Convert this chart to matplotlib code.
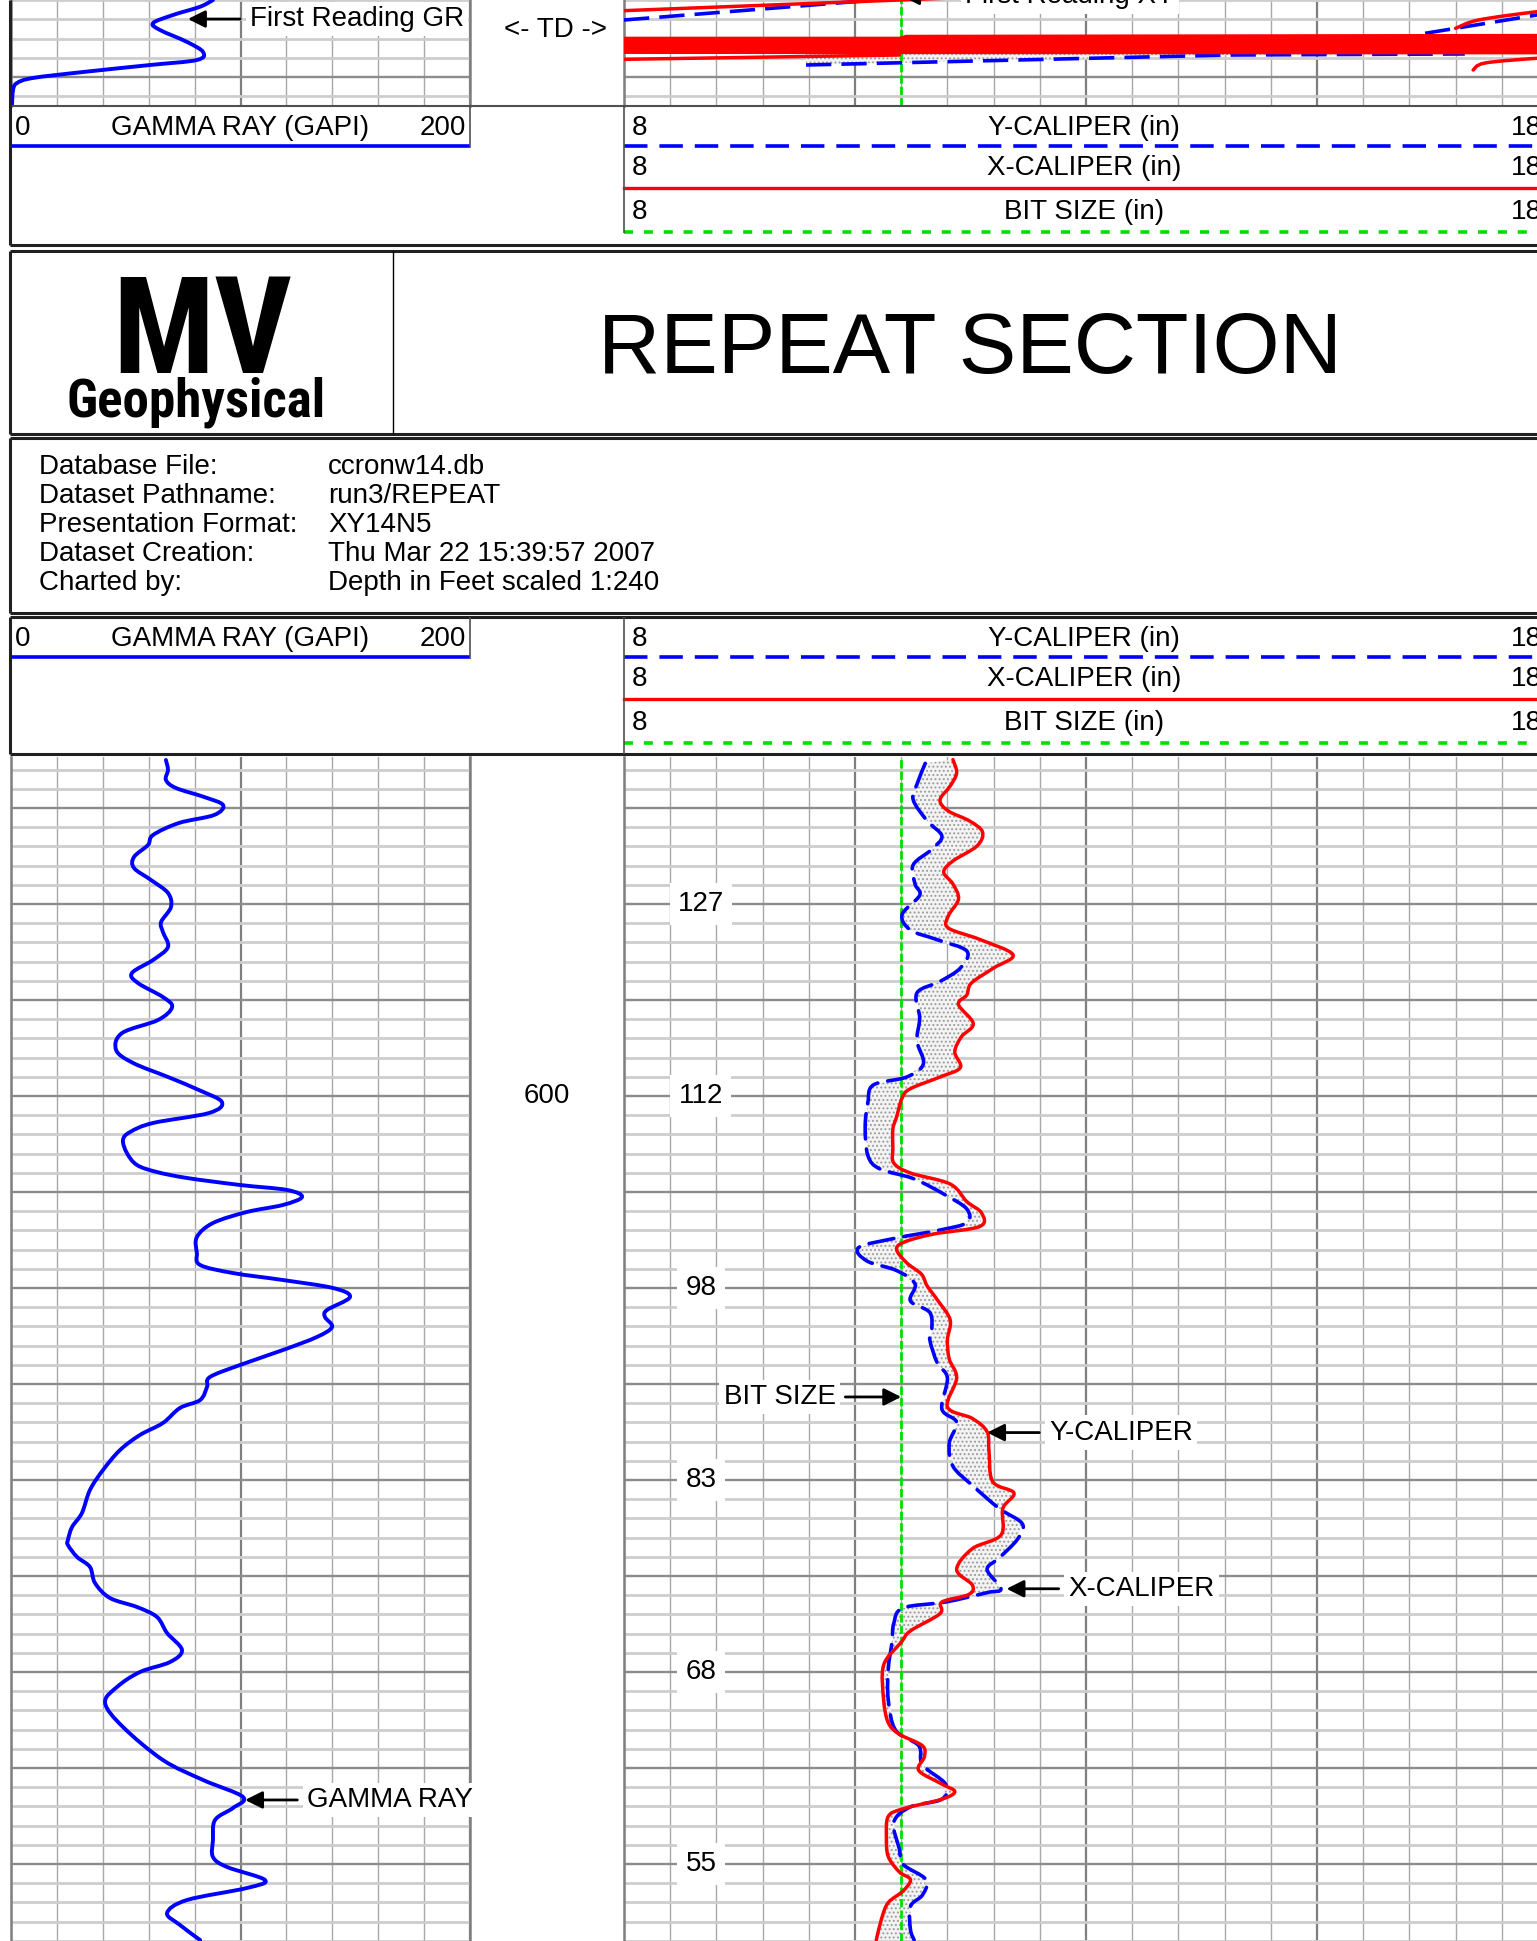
import numpy as np
import matplotlib.pyplot as plt
import matplotlib.transforms as mtransforms
from matplotlib import font_manager as fm
from matplotlib.path import Path
from matplotlib.patches import PathPatch

plt.rcParams['font.family'] = ['Liberation Sans', 'DejaVu Sans']
plt.rcParams['hatch.linewidth'] = 0.9

# ---------------- data ----------------
# repeat section (depth in feet)
gr_depth = [565.0, 566.04, 567.08, 567.92, 568.85, 569.69, 570.73, 571.56, 572.81, 573.85,
            575.10, 576.25, 577.5, 578.85, 580.31, 581.88, 582.92, 584.48, 585.83, 587.19,
            588.23, 589.69, 590.73, 592.08, 593.44, 595.21, 596.56, 598.02, 599.38, 600.63,
            601.77, 602.81, 603.75, 604.58, 605.94, 607.19, 607.92, 608.54, 609.27, 609.79,
            610.52, 611.35, 612.08, 613.23, 614.69, 616.35, 617.60, 618.44, 619.17, 620.0,
            620.94, 622.29, 623.02, 624.06, 625.10, 626.46, 628.02, 629.27, 630.31, 631.67,
            632.5, 634.06, 635.31, 636.88, 638.96, 641.04, 643.44, 644.90, 646.25, 646.77,
            648.02, 649.06, 650.73, 652.29, 653.23, 654.27, 655.94, 657.71, 658.96, 660.0,
            661.56, 663.23, 665.73, 669.17, 671.25, 673.02, 674.17, 675.42, 677.5, 679.27,
            680.31, 681.67, 682.5, 683.75, 685.10, 686.35, 687.92]
gr_api = [67.5, 68.4, 67.5, 71.9, 84.1, 92.4, 88.5, 73.2, 61.9, 59.7,
          53.6, 53.6, 61.0, 68.4, 69.7, 65.4, 66.2, 68.4, 61.9, 52.7,
          55.3, 66.2, 70.2, 64.1, 48.4, 45.8, 53.2, 68.4, 81.9, 91.9,
          86.3, 61.9, 51.9, 48.8, 50.5, 54.9, 63.6, 76.7, 99.8, 120.3,
          126.8, 118.5, 102.8, 88.0, 81.0, 81.0, 82.4, 96.7, 118.5, 140.3,
          147.7, 137.7, 136.8, 139.9, 133.3, 118.5, 99.8, 86.7, 85.4, 82.4,
          73.6, 66.2, 56.2, 47.5, 40.1, 34.4, 30.9, 26.6, 24.8, 24.8,
          28.8, 34.4, 36.6, 43.1, 54.9, 63.6, 68.0, 74.5, 69.3, 56.2,
          46.2, 41.0, 48.8, 66.2, 83.7, 101.1, 96.7, 88.9, 88.0, 88.0,
          94.1, 110.7, 102.8, 76.7, 68.0, 73.6, 82.4]

xcal_depth = [564.96, 566.35, 567.71, 569.17, 570.31, 571.35, 572.5, 573.96, 575.52, 576.67,
              577.92, 579.48, 581.25, 582.5, 583.69, 585.28, 586.67, 588.23, 589.48, 590.47,
              592.46, 593.85, 595.42, 597.04, 598.02, 599.24, 600.21, 602.19, 603.44, 605.42,
              606.98, 608.02, 609.17, 611.0, 612.19, 613.59, 614.38, 615.19, 615.98, 617.38,
              618.57, 619.77, 621.35, 623.33, 625.42, 627.40, 629.38, 632.40, 633.59, 634.98,
              636.98, 640.17, 641.35, 642.96, 645.73, 647.15, 649.33, 650.94, 651.93, 652.71,
              653.92, 655.72, 656.91, 659.27, 662.89, 665.28, 666.48, 667.68, 668.85, 670.26,
              671.67, 672.46, 673.25, 674.25, 675.05, 677.24, 679.23, 680.83, 681.63, 682.81,
              684.02, 685.61, 687.92]
xcal_in = [11.56, 11.60, 11.53, 11.42, 11.51, 11.74, 11.88, 11.82, 11.56, 11.46,
           11.56, 11.62, 11.51, 11.51, 11.85, 12.21, 12.00, 11.76, 11.71, 11.62,
           11.78, 11.65, 11.58, 11.64, 11.42, 11.10, 11.01, 10.95, 10.91, 10.91,
           10.92, 11.10, 11.53, 11.71, 11.87, 11.85, 11.35, 11.04, 10.95, 11.06,
           11.22, 11.28, 11.40, 11.53, 11.50, 11.52, 11.60, 11.50, 11.77, 11.93,
           11.95, 11.99, 12.22, 12.10, 12.08, 11.77, 11.60, 11.77, 11.73, 11.44,
           11.42, 11.10, 11.00, 10.81, 10.81, 10.86, 10.98, 11.23, 11.25, 11.19,
           11.44, 11.58, 11.44, 11.02, 10.86, 10.84, 10.86, 10.98, 11.10, 11.02,
           10.86, 10.79, 10.73]

ycal_depth = [565.35, 567.54, 569.15, 571.33, 572.92, 574.32, 575.92, 577.92, 579.10, 581.10,
              582.71, 583.69, 584.90, 586.67, 588.07, 589.27, 591.88, 594.25, 596.65, 598.02,
              598.84, 600.63, 603.23, 606.22, 607.60, 608.60, 610.21, 611.77, 613.19, 613.96,
              614.79, 615.78, 617.19, 618.18, 619.58, 621.35, 622.56, 624.55, 625.42, 627.81,
              629.38, 632.60, 633.99, 636.18, 638.57, 640.56, 642.96, 644.55, 646.15, 648.13,
              649.33, 651.33, 651.73, 652.71, 653.33, 654.92, 656.91, 659.69, 662.89, 666.08,
              667.68, 669.67, 671.67, 673.25, 674.05, 675.65, 678.44, 680.03, 681.63, 683.23,
              684.42, 686.81, 687.92]
ycal_in = [11.26, 11.17, 11.13, 11.28, 11.44, 11.33, 11.13, 11.15, 11.20, 11.01,
           11.10, 11.38, 11.71, 11.64, 11.42, 11.17, 11.20, 11.17, 11.24, 11.06,
           10.70, 10.64, 10.61, 10.64, 10.77, 11.13, 11.46, 11.71, 11.71, 11.42,
           10.95, 10.54, 10.63, 10.95, 11.15, 11.10, 11.31, 11.33, 11.31, 11.39,
           11.50, 11.44, 11.60, 11.52, 11.56, 11.77, 12.06, 12.31, 12.26, 12.06,
           11.93, 12.08, 11.93, 11.48, 11.02, 10.92, 10.90, 10.86, 10.86, 10.94,
           11.19, 11.23, 11.48, 11.44, 11.10, 10.92, 10.98, 11.02, 11.27, 11.23,
           11.10, 11.10, 11.14]

bit_size = 11.0

# numbers printed in the caliper track every 20 ft
ref_depths = [580, 600, 620, 640, 660, 680]
ref_labels = ['127', '112', '98', '83', '68', '55']
depth_marks = [600]

# tail of the previous pass, at TD (top of the page)
td_gr_depth = [691.98, 692.68, 693.54, 694.38, 695.10, 696.35, 697.40, 698.23, 698.75,
               699.48, 700.10, 700.63, 701.35, 703.02]
td_gr_api = [88.0, 82.4, 70.6, 61.9, 64.9, 76.7, 83.7, 81.0, 60.6, 31.4, 9.6, 2.6, 0.9, 0.4]

td_xcal_a_in = [8.0, 10.98, 12.0]
td_xcal_a_depth = [693.09, 691.98, 691.6]
td_xcal_b_in = [8.0, 10.98]
td_xcal_b_depth = [698.16, 697.71]
td_xcal_c_in = [17.0, 17.25, 17.88, 18.2]
td_xcal_c_depth = [694.93, 694.06, 693.2, 693.0]
td_xcal_d_in = [17.19, 17.32, 17.88, 18.2]
td_xcal_d_depth = [699.27, 698.54, 698.05, 697.95]
td_band_in = [8.0, 10.98, 11.05, 18.2, 18.2, 8.0]
td_band_depth = [695.8, 695.8, 695.6, 695.5, 697.65, 697.6]

td_ycal_a_in = [8.0, 10.72, 11.5]
td_ycal_a_depth = [694.06, 691.98, 691.6]
td_ycal_b_in = [9.97, 14.54, 17.1]
td_ycal_b_depth = [698.75, 697.71, 697.6]
td_ycal_c_in = [16.67, 17.88, 18.2]
td_ycal_c_depth = [695.45, 693.54, 693.3]

info_rows = [('Database File:', 'ccronw14.db'),
             ('Dataset Pathname:', 'run3/REPEAT'),
             ('Presentation Format:', 'XY14N5'),
             ('Dataset Creation:', 'Thu Mar 22 15:39:57 2007'),
             ('Charted by:', 'Depth in Feet scaled 1:240')]

gr_scale = ('GAMMA RAY (GAPI)', '0', '200')
cal_scales = ['Y-CALIPER (in)', 'X-CALIPER (in)', 'BIT SIZE (in)']
cal_lo, cal_hi = '8', '18'

# ---------------- layout ----------------
W, H, DPI = 1537, 1941, 100
PX_PER_FT = 9.6
fig = plt.figure(figsize=(W / DPI, H / DPI), dpi=DPI)

BLUE, RED, GREEN = '#0000ff', '#ff0000', '#00e000'
FS = 20


def px_axes(x0, y0, x1, y1):
    return fig.add_axes([x0 / W, 1 - y1 / H, (x1 - x0) / W, (y1 - y0) / H])


def setup_track(ax, xlim, xmajor, xminor, dtop, dbot):
    ax.set_xticks(xmajor)
    ax.set_xticks(xminor, minor=True)
    ax.set_yticks(np.arange(550, 720, 10))
    ax.set_yticks(np.arange(550, 720, 2), minor=True)
    # limits after the ticks, set_ticks would widen them otherwise
    ax.set_xlim(*xlim)
    ax.set_ylim(dbot, dtop)
    ax.grid(which='minor', axis='y', color='#cdcdcd', lw=2.0)
    ax.grid(which='major', axis='y', color='#8c8c8c', lw=1.7)
    ax.grid(which='minor', axis='x', color='#a8a8a8', lw=1.0)
    ax.grid(which='major', axis='x', color='#7f7f7f', lw=1.6)
    ax.tick_params(which='both', length=0, labelbottom=False, labelleft=False)
    for side in ('top', 'bottom'):
        ax.spines[side].set_visible(False)
    for side in ('left', 'right'):
        ax.spines[side].set_color('#7f7f7f')
        ax.spines[side].set_linewidth(1.8)
    ax.set_axisbelow(True)


def smooth_line(ax, xs, ys, **kw):
    pts = np.column_stack([xs, ys])
    verts, codes = [pts[0]], [Path.MOVETO]
    n = len(pts)
    for i in range(n - 1):
        p0 = pts[max(i - 1, 0)]
        p1, p2 = pts[i], pts[i + 1]
        p3 = pts[min(i + 2, n - 1)]
        verts += [p1 + (p2 - p0) / 6, p2 - (p3 - p1) / 6, p2]
        codes += [Path.CURVE4] * 3
    patch = PathPatch(Path(verts, codes), fill=False, capstyle='round', joinstyle='round', **kw)
    ax.add_patch(patch)
    return patch


GR_X = (11, 470)
CAL_X = (624, 1548)
gr_major, gr_minor = [0, 100, 200], np.arange(0, 201, 20)
cal_major, cal_minor = [8, 10.5, 13, 15.5, 18], np.arange(8, 18.01, 0.5)

# lower tracks: 600 ft sits at y=1096 px
low_top = 600 - (1096 - 757) / PX_PER_FT
low_bot = 600 + (H - 1096) / PX_PER_FT
# upper tracks: 700 ft sits at y=77 px
up_top = 700 - 77 / PX_PER_FT
up_bot = 700 + (106 - 77) / PX_PER_FT

ax_gr = px_axes(GR_X[0], 757, GR_X[1], H)
ax_cal = px_axes(CAL_X[0], 757, CAL_X[1], H)
ax_gr_up = px_axes(GR_X[0], 0, GR_X[1], 106)
ax_cal_up = px_axes(CAL_X[0], 0, CAL_X[1], 106)
setup_track(ax_gr, (0, 200), gr_major, gr_minor, low_top, low_bot)
setup_track(ax_cal, (8, 18), cal_major, cal_minor, low_top, low_bot)
setup_track(ax_gr_up, (0, 200), gr_major, gr_minor, up_top, up_bot)
setup_track(ax_cal_up, (8, 18), cal_major, cal_minor, up_top, up_bot)

arrow = dict(arrowstyle='-|>', color='black', lw=2.0, mutation_scale=26, shrinkA=4, shrinkB=0)
wbox = dict(boxstyle='square,pad=0.15', fc='white', ec='none')

# ---- lower: gamma ray ----
smooth_line(ax_gr, gr_api, gr_depth, edgecolor=BLUE, lw=2.8, zorder=3)
ax_gr.annotate('GAMMA RAY', xy=(102.0, 673.33), xytext=(129.0, 673.33), ha='left', va='center',
               fontsize=FS, arrowprops=arrow, bbox=wbox, zorder=5)

# ---- lower: calipers ----
ax_cal.fill(np.r_[xcal_in, ycal_in[::-1]], np.r_[xcal_depth, ycal_depth[::-1]],
            facecolor='#f3f3f3', edgecolor='#9c9c9c', hatch='....', lw=0, zorder=2)
ax_cal.axvline(bit_size, color=GREEN, lw=2.0, dashes=(3, 1.1), zorder=3)
smooth_line(ax_cal, ycal_in, ycal_depth, edgecolor=BLUE, lw=2.6, linestyle=(0, (7, 2.8)), zorder=4)
smooth_line(ax_cal, xcal_in, xcal_depth, edgecolor=RED, lw=2.5, zorder=5)

for d, lab in zip(ref_depths, ref_labels):
    ax_cal.text(8.833, d, lab, ha='center', va='center', fontsize=FS,
                bbox=dict(boxstyle='square,pad=0.3', fc='white', ec='none'), zorder=6)

ax_cal.annotate('BIT SIZE', xy=(bit_size, 631.35), xytext=(10.29, 631.35), ha='right', va='center',
                fontsize=FS, arrowprops=arrow, bbox=wbox, zorder=7)
ax_cal.annotate('Y-CALIPER', xy=(11.93, 635.06), xytext=(12.60, 635.06), ha='left', va='center',
                fontsize=FS, arrowprops=arrow, bbox=wbox, zorder=7)
ax_cal.annotate('X-CALIPER', xy=(12.14, 651.33), xytext=(12.81, 651.33), ha='left', va='center',
                fontsize=FS, arrowprops=arrow, bbox=wbox, zorder=7)

# ---- upper (TD) tracks ----
smooth_line(ax_gr_up, td_gr_api, td_gr_depth, edgecolor=BLUE, lw=2.8, zorder=3)
ax_gr_up.annotate('First Reading GR', xy=(77.1, 693.96), xytext=(104.1, 693.96), ha='left',
                  va='center', fontsize=FS, arrowprops=arrow, bbox=wbox, zorder=5)

ax_cal_up.fill(np.r_[td_ycal_b_in, td_ycal_b_in[::-1]],
               np.r_[td_ycal_b_depth, [697.6] * len(td_ycal_b_in)],
               facecolor='#f3f3f3', edgecolor='#9c9c9c', hatch='....', lw=0, zorder=2)
ax_cal_up.axvline(bit_size, color=GREEN, lw=2.0, dashes=(3, 1.1), zorder=3)
ax_cal_up.fill(td_band_in, td_band_depth, color=RED, lw=0, zorder=5)
for xs, ds in [(td_ycal_a_in, td_ycal_a_depth), (td_ycal_b_in, td_ycal_b_depth),
               (td_ycal_c_in, td_ycal_c_depth)]:
    ax_cal_up.plot(xs, ds, color=BLUE, lw=2.6, dashes=(7, 2.8), zorder=4)
for xs, ds in [(td_xcal_a_in, td_xcal_a_depth), (td_xcal_b_in, td_xcal_b_depth),
               (td_xcal_c_in, td_xcal_c_depth), (td_xcal_d_in, td_xcal_d_depth)]:
    smooth_line(ax_cal_up, xs, ds, edgecolor=RED, lw=2.5, zorder=5)
ax_cal_up.annotate('First Reading XY', xy=(11.01, 691.6), xytext=(11.69, 691.6), ha='left',
                   va='center', fontsize=FS, arrowprops=arrow, bbox=wbox, zorder=7,
                   annotation_clip=False)

# ---------------- frame / header boxes ----------------
frame = fig.add_axes([0, 0, 1, 1])
frame.set_xlim(0, W)
frame.set_ylim(H, 0)
frame.axis('off')

depth_tr = mtransforms.blended_transform_factory(frame.transData, ax_gr.transData)
for d in depth_marks:
    ax_gr.text(547, d, str(d), transform=depth_tr, ha='center', va='center', fontsize=FS)
frame.text(556, 30, '<- TD ->', ha='center', va='center', fontsize=FS)


def hline(y, x0=10, x1=W, lw=2.2, color='#202020'):
    frame.plot([x0, x1], [y, y], color=color, lw=lw, solid_capstyle='butt')


def vline(x, y0, y1, lw=2.2, color='#202020'):
    frame.plot([x, x], [y0, y1], color=color, lw=lw, solid_capstyle='butt')


def scale_header(top, cal_depth):
    ty = top + 21.6
    frame.text(15, ty, gr_scale[1], ha='left', va='center', fontsize=FS)
    frame.text(240, ty, gr_scale[0], ha='center', va='center', fontsize=FS)
    frame.text(466, ty, gr_scale[2], ha='right', va='center', fontsize=FS)
    frame.plot([GR_X[0], GR_X[1]], [top + 40] * 2, color=BLUE, lw=2.6, solid_capstyle='butt')
    styles = [dict(color=BLUE, lw=2.6, dashes=(6.5, 3.3)),
              dict(color=RED, lw=2.4),
              dict(color=GREEN, lw=2.6, dashes=(2.5, 3.0))]
    offs = [(21.6, 40), (62.4, 82), (105.7, 125.5)]
    for lab, st, (to, lo) in zip(cal_scales, styles, offs):
        frame.text(632, top + to, cal_lo, ha='left', va='center', fontsize=FS)
        frame.text(1084, top + to, lab, ha='center', va='center', fontsize=FS)
        frame.text(1542, top + to, cal_hi, ha='right', va='center', fontsize=FS)
        frame.plot([CAL_X[0], CAL_X[1]], [top + lo] * 2, **st)
    vline(GR_X[1], top, top + 42, lw=1.2, color='#505050')
    vline(CAL_X[0], top, top + cal_depth, lw=1.2, color='#505050')


# top section (end of previous pass)
hline(106, 11, W, lw=1.5, color='#505050')
scale_header(106, 127)
hline(245)
vline(10, 0, 245)

# logo / title box
hline(251)
hline(434)
vline(10, 251, 434)
vline(393, 251, 434, lw=1.0, color='black')


def condensed_bold():
    prefs = ['liberation sans narrow', 'arial narrow', 'dejavu sans condensed',
             'roboto condensed', 'open sans condensed', 'noto sans condensed']
    found = []
    for f in fm.fontManager.ttflist:
        nm = f.name.lower()
        bold = f.weight in (600, 700, 800, 900, 'bold', 'heavy', 'black', 'semibold')
        narrow = ('narrow' in nm or 'condensed' in nm or
                  f.stretch in ('condensed', 'semi-condensed', 'extra-condensed'))
        if bold and narrow:
            rank = next((i for i, p in enumerate(prefs) if p in nm), len(prefs))
            found.append((rank, f.fname))
    if found:
        return fm.FontProperties(fname=sorted(found)[0][1])
    return fm.FontProperties(family='DejaVu Sans', weight='bold')


logo_font = condensed_bold()
renderer = fig.canvas.get_renderer()


def fit_text(x, y, s, width, size):
    t = frame.text(x, y, s, ha='center', va='baseline', fontproperties=logo_font.copy())
    t.set_fontsize(size)
    w = t.get_window_extent(renderer=renderer).width
    t.set_fontsize(size * width / w)
    return t


fit_text(202, 373, 'MV', 180, 99)
fit_text(196, 417, 'Geophysical', 259, 38)
frame.text(970, 373, 'REPEAT SECTION', ha='center', va='baseline', fontsize=62)

# info box
hline(438)
hline(613)
vline(10, 438, 613)
for i, (lab, val) in enumerate(info_rows):
    y = 467 + i * 29
    frame.text(39, y, lab, ha='left', va='center', fontsize=FS)
    frame.text(328, y, val, ha='left', va='center', fontsize=FS)

# lower scale header
hline(617)
hline(754)
vline(10, 617, 754)
scale_header(617, 137)

fig.savefig('out.png', dpi=DPI)
